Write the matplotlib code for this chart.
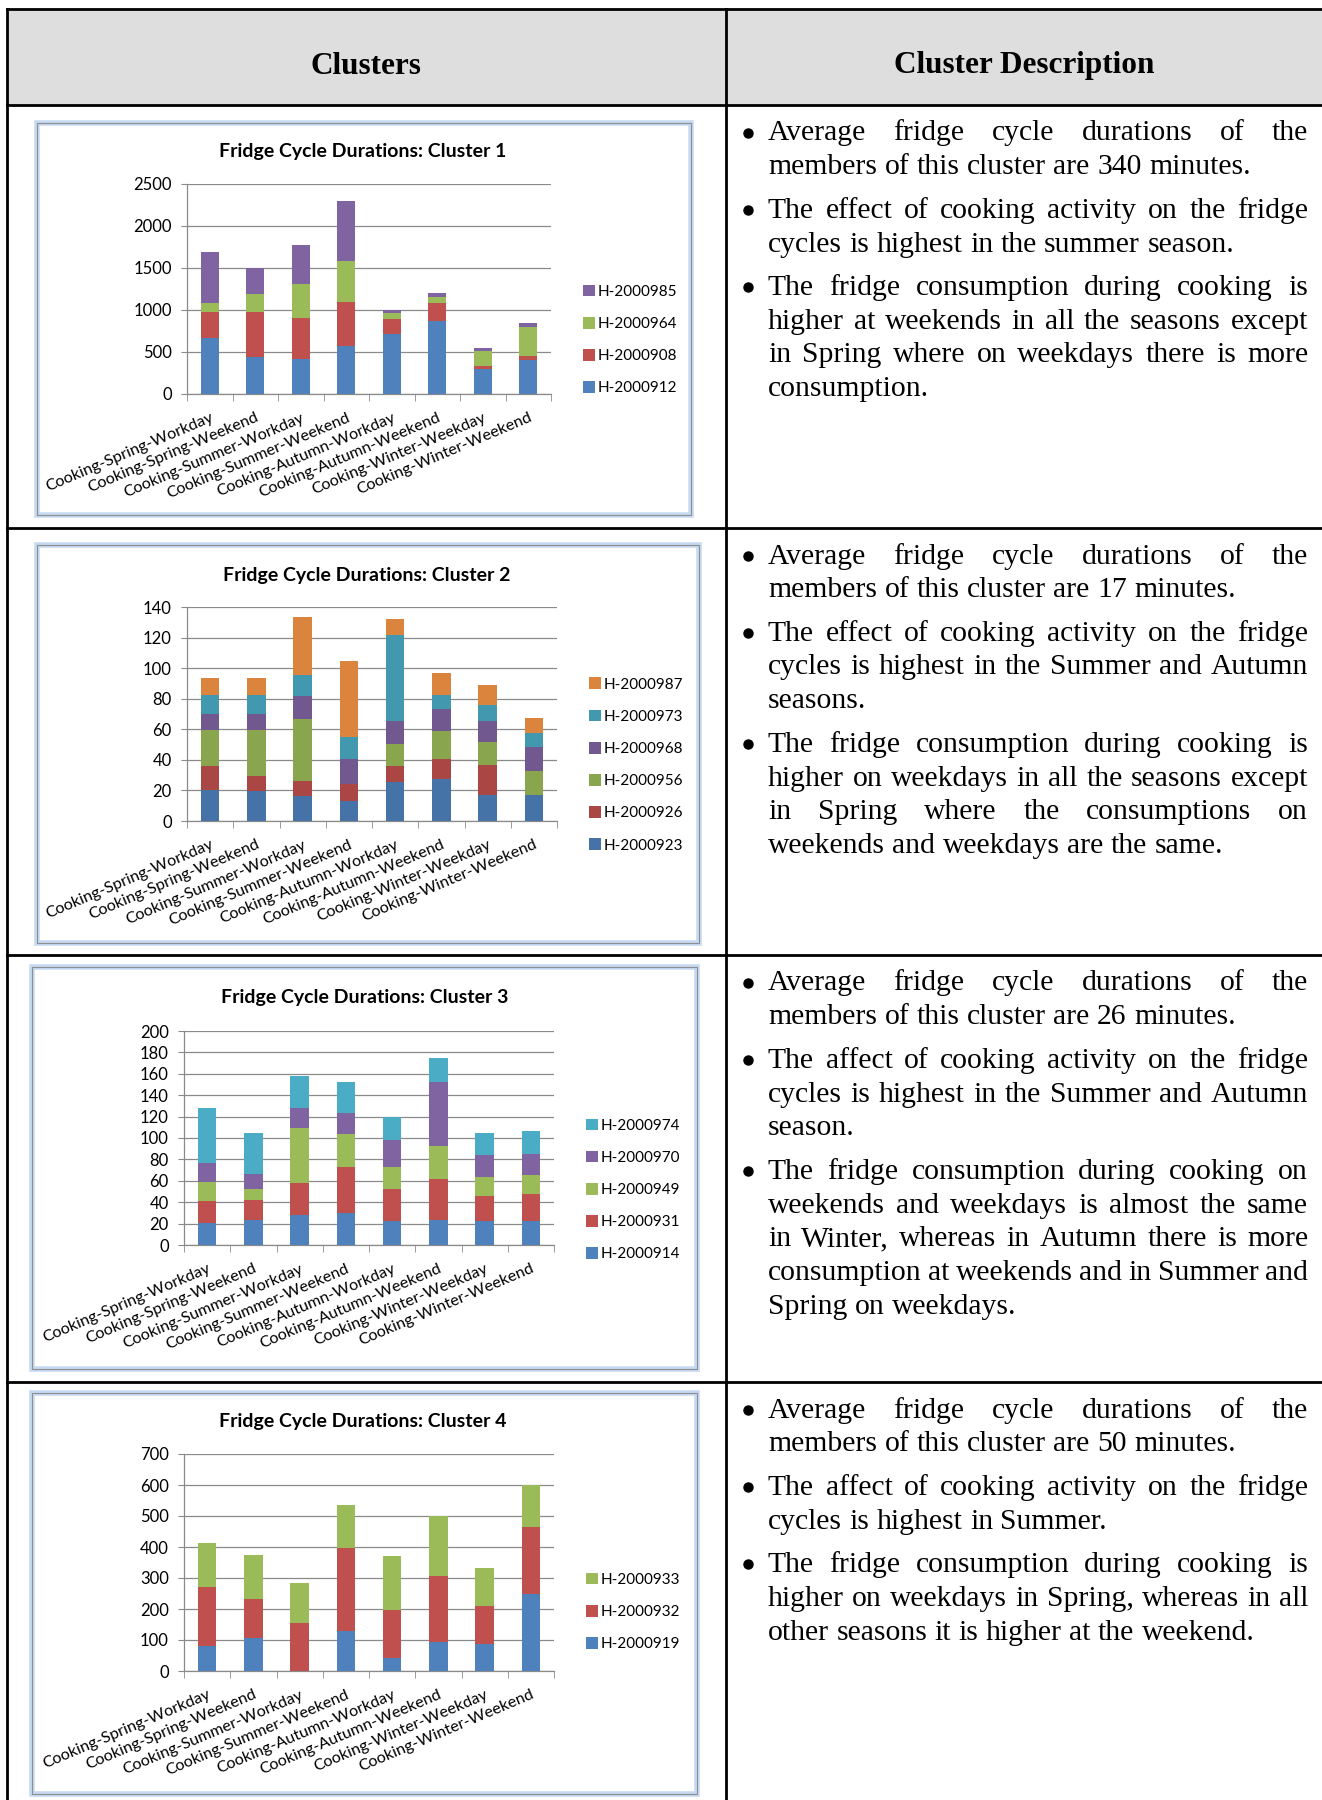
import numpy as np
import matplotlib
matplotlib.use("Agg")
import matplotlib.pyplot as plt
from matplotlib.transforms import Affine2D
from matplotlib.lines import Line2D
from matplotlib.patches import Rectangle

W, H = 1322, 1800

categories = ["Cooking-Spring-Workday", "Cooking-Spring-Weekend",
              "Cooking-Summer-Workday", "Cooking-Summer-Weekend",
              "Cooking-Autumn-Workday", "Cooking-Autumn-Weekend",
              "Cooking-Winter-Weekday", "Cooking-Winter-Weekend"]

# cluster 1 (segment heights, bottom to top)
c1_h2000912 = [666, 435, 415, 574, 718, 873, 295, 399]
c1_h2000908 = [307, 538, 490, 522, 171, 207, 44, 48]
c1_h2000964 = [107, 223, 399, 487, 80, 80, 175, 346]
c1_h2000985 = [615, 307, 470, 717, 28, 44, 28, 48]

# cluster 2
c2_h2000923 = [20.5, 19.8, 16.1, 13.4, 25.8, 27.8, 17.0, 17.0]
c2_h2000926 = [15.2, 9.7, 9.9, 10.6, 9.9, 13.0, 19.4, 0]
c2_h2000956 = [23.8, 30.0, 40.6, 0, 15.0, 17.8, 15.2, 15.8]
c2_h2000968 = [10.8, 10.8, 15.4, 16.8, 15.0, 14.4, 14.1, 15.3]
c2_h2000973 = [12.4, 12.4, 13.2, 14.3, 56.0, 9.7, 9.9, 9.7]
c2_h2000987 = [10.6, 10.6, 38.0, 49.6, 10.6, 14.1, 13.2, 9.7]

# cluster 3
c3_h2000914 = [20.5, 23.3, 28.3, 29.5, 22.1, 23.3, 22.1, 22.1]
c3_h2000931 = [20.2, 19.0, 29.2, 43.0, 30.2, 38.0, 23.9, 25.5]
c3_h2000949 = [17.8, 10.0, 51.7, 31.7, 20.2, 31.4, 17.8, 17.4]
c3_h2000970 = [17.7, 14.0, 18.9, 19.0, 25.5, 59.4, 19.9, 20.2]
c3_h2000974 = [51.9, 38.8, 30.2, 28.9, 21.8, 22.7, 21.4, 21.5]

# cluster 4
c4_h2000919 = [81, 105, 0, 128, 41, 93, 88, 250]
c4_h2000932 = [190, 126, 154, 269, 157, 214, 122, 213]
c4_h2000933 = [143, 144, 130, 139, 173, 192, 122, 137]

c1_names = ["H-2000912", "H-2000908", "H-2000964", "H-2000985"]
c2_names = ["H-2000923", "H-2000926", "H-2000956", "H-2000968", "H-2000973", "H-2000987"]
c3_names = ["H-2000914", "H-2000931", "H-2000949", "H-2000970", "H-2000974"]
c4_names = ["H-2000919", "H-2000932", "H-2000933"]

desc1 = [["Average fridge cycle durations of the", "members of this cluster are 340 minutes."],
         ["The effect of cooking activity on the fridge", "cycles is highest in the summer season."],
         ["The fridge consumption during cooking is", "higher at weekends in all the seasons except",
          "in Spring where on weekdays there is more", "consumption."]]
desc2 = [["Average fridge cycle durations of the", "members of this cluster are 17 minutes."],
         ["The effect of cooking activity on the fridge", "cycles is highest in the Summer and Autumn",
          "seasons."],
         ["The fridge consumption during cooking is", "higher on weekdays in all the seasons except",
          "in Spring where the consumptions on", "weekends and weekdays are the same."]]
desc3 = [["Average fridge cycle durations of the", "members of this cluster are 26 minutes."],
         ["The affect of cooking activity on the fridge", "cycles is highest in the Summer and Autumn",
          "season."],
         ["The fridge consumption during cooking on", "weekends and weekdays is almost the same",
          "in Winter, whereas in Autumn there is more", "consumption at weekends and in Summer and",
          "Spring on weekdays."]]
desc4 = [["Average fridge cycle durations of the", "members of this cluster are 50 minutes."],
         ["The affect of cooking activity on the fridge", "cycles is highest in Summer."],
         ["The fridge consumption during cooking is", "higher on weekdays in Spring, whereas in all",
          "other seasons it is higher at the weekend."]]

office = ["#4F81BD", "#C0504D", "#9BBB59", "#8064A2", "#4BACC6", "#F79646"]
dark = ["#4572A7", "#AA4643", "#89A54E", "#71588F", "#4198AF", "#DB843D"]

fig = plt.figure(figsize=(W / 100, H / 100), dpi=100)
T = Affine2D().scale(1 / W, -1 / H).translate(0, 1) + fig.transFigure
renderer = fig.canvas.get_renderer()

SANS = "Lato"
SERIF = "Liberation Serif"

# ---- table ----
fig.add_artist(Rectangle((7, 9), W - 7, 96, transform=T, facecolor="#dedede",
                         edgecolor="none", zorder=-3))
for y in [9, 105, 528, 955, 1382]:
    fig.add_artist(Line2D([7, W], [y, y], transform=T, color="black", lw=2))
for x in [7, 726]:
    fig.add_artist(Line2D([x, x], [9, H], transform=T, color="black", lw=2))
fig.text(366, 66, "Clusters", transform=T, ha="center", va="center",
         family=SERIF, weight="bold", fontsize=22.5)
fig.text(1024, 66, "Cluster Description", transform=T, ha="center", va="center",
         family=SERIF, weight="bold", fontsize=22.5)


def chart(frame, plot, title_xy, legend_xy, title, series, names, colors, ymax, ystep):
    fx0, fy0, fx1, fy1 = frame
    fig.add_artist(Rectangle((fx0, fy0), fx1 - fx0, fy1 - fy0, transform=T,
                             facecolor="white", edgecolor="#c6d9f1", lw=4, zorder=-2))
    fig.add_artist(Rectangle((fx0, fy0), fx1 - fx0, fy1 - fy0, transform=T,
                             facecolor="none", edgecolor="#8e8e8e", lw=0.8, zorder=-1))
    px0, py0, px1, py1 = plot
    ax = fig.add_axes([px0 / W, 1 - py1 / H, (px1 - px0) / W, (py1 - py0) / H])
    ax.patch.set_alpha(0)
    x = np.arange(len(categories))
    bottom = np.zeros(len(categories))
    handles = []
    for vals, name, col in zip(series, names, colors):
        b = ax.bar(x, vals, 0.4, bottom=bottom, color=col, label=name, zorder=3)
        bottom += np.array(vals)
        handles.append(b)
    ax.set_xlim(-0.5, len(categories) - 0.5)
    ax.set_ylim(0, ymax)
    ax.set_yticks(np.arange(0, ymax + 1, ystep))
    ax.yaxis.grid(True, color="#8a8a8a", lw=0.9, zorder=0)
    ax.set_axisbelow(True)
    for s in ["top", "right"]:
        ax.spines[s].set_visible(False)
    for s in ["left", "bottom"]:
        ax.spines[s].set_color("#8a8a8a")
        ax.spines[s].set_linewidth(0.9)
    ax.set_xticks(x)
    ax.set_xticklabels(categories, rotation=23, ha="right", va="top",
                       rotation_mode="anchor", family=SANS, fontsize=11.6)
    ax.set_xticks(np.arange(-0.5, len(categories)), minor=True)
    ax.tick_params(axis="x", which="major", length=0, pad=12)
    ax.tick_params(axis="x", which="minor", length=5, color="#8a8a8a", direction="out")
    ax.tick_params(axis="y", length=4, color="#8a8a8a", pad=7, labelsize=12)
    for lb in ax.get_yticklabels():
        lb.set_family(SANS)
    fig.text(title_xy[0], title_xy[1] + 2, title, transform=T, ha="center", va="center",
             family=SANS, weight="bold", fontsize=14)
    lx, ly = legend_xy
    ax.legend(handles[::-1], names[::-1], loc="center left",
              bbox_to_anchor=(lx / W, 1 - ly / H), bbox_transform=fig.transFigure,
              frameon=False, borderpad=0, handlelength=0.8, handleheight=0.8,
              handletextpad=0.2, labelspacing=1.18, prop={"family": SANS, "size": 11})
    return ax


chart((37, 123, 691, 515), (187, 184, 551, 394), (363, 150), (575, 340),
      "Fridge Cycle Durations: Cluster 1",
      [c1_h2000912, c1_h2000908, c1_h2000964, c1_h2000985], c1_names, office, 2500, 500)
chart((37, 545, 699, 943), (187, 607, 557, 821), (367, 573), (581, 765),
      "Fridge Cycle Durations: Cluster 2",
      [c2_h2000923, c2_h2000926, c2_h2000956, c2_h2000968, c2_h2000973, c2_h2000987],
      c2_names, dark, 140, 20)
chart((32, 967, 697, 1369), (184, 1031, 554, 1245), (365, 996), (578, 1190),
      "Fridge Cycle Durations: Cluster 3",
      [c3_h2000914, c3_h2000931, c3_h2000949, c3_h2000970, c3_h2000974],
      c3_names, office, 200, 20)
chart((32, 1393, 697, 1794), (184, 1454, 554, 1671), (363, 1420), (578, 1612),
      "Fridge Cycle Durations: Cluster 4",
      [c4_h2000919, c4_h2000932, c4_h2000933], c4_names, office, 700, 100)

# ---- justified description text ----
FS = 21.3
TX0, TX1 = 768, 1308
STEP, GAP = 33.7, 9.9


def put_line(line, y, justify):
    words = line.split()
    texts = [fig.text(0, y, w, transform=T, family=SERIF, fontsize=FS, va="baseline")
             for w in words]
    widths = [t.get_window_extent(renderer).width for t in texts]
    if justify and len(words) > 1:
        gap = (TX1 - TX0 - sum(widths)) / (len(words) - 1)
    else:
        gap = FS * 0.25 * 100 / 72
    xx = TX0
    for t, w in zip(texts, widths):
        t.set_x(xx)
        xx += w + gap


for row_top, desc in zip([105, 528, 955, 1382], [desc1, desc2, desc3, desc4]):
    y = row_top + 28.5 + 7
    for para in desc:
        fig.add_artist(Line2D([748], [y - 8], transform=T, marker="o", ms=6.5,
                              color="black", lw=0))
        for i, line in enumerate(para):
            put_line(line, y, i < len(para) - 1)
            y += STEP
        y += GAP

fig.savefig("out.png", dpi=100)
